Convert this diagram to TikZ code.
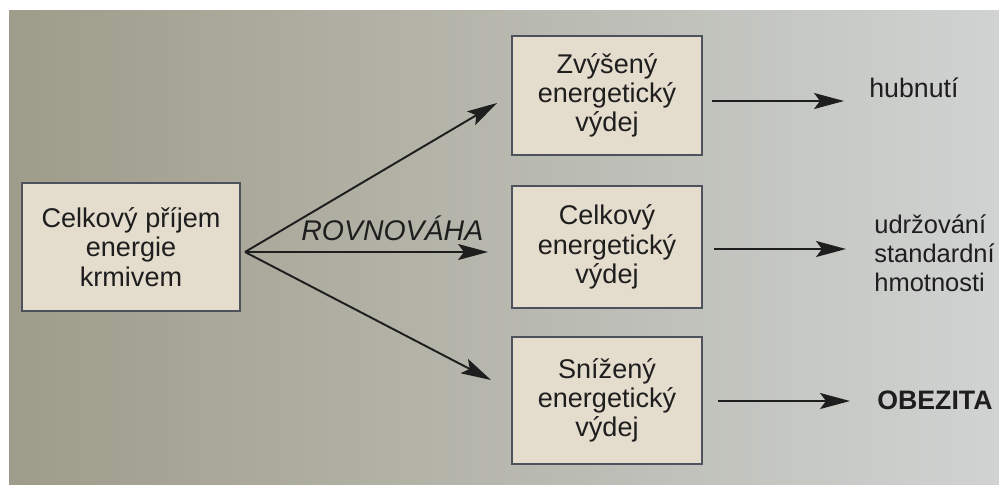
\documentclass[tikz,border=0pt]{standalone}
\usepackage{fontspec}
\setmainfont{Liberation Sans}
\usetikzlibrary{arrows.meta}
\definecolor{bgleft}{RGB}{158,156,138}
\definecolor{bgright}{RGB}{208,211,210}
\definecolor{boxfill}{RGB}{228,220,204}
\definecolor{boxline}{RGB}{78,82,92}
\definecolor{ink}{RGB}{30,30,30}
\tikzset{
  box/.style={draw=boxline, line width=1.3pt, fill=boxfill, align=center, inner sep=0pt,
    font=\fontsize{15.4}{16.6}\selectfont, text=ink},
  arr/.style={draw=ink, line width=1.1pt, -{Stealth[length=0.6cm, width=0.32cm, inset=0.12cm]}},
  lbl/.style={font=\fontsize{15.2}{16.6}\selectfont, text=ink, align=left, inner sep=0pt, anchor=west}
}
\begin{document}
\begin{tikzpicture}[x=0.02cm, y=-0.02cm]
\useasboundingbox (0,0) rectangle (999,484);
\fill[white] (0,0) rectangle (999,484);
\shade[left color=bgleft, right color=bgright] (9,10) rectangle (999,484);
% boxes
\node[box, minimum width=4.36cm, minimum height=2.56cm] (src) at (131,247) {Celkový příjem\\energie\\krmivem};
\node[box, minimum width=3.8cm, minimum height=2.38cm] (up) at (607,95.5) {Zvýšený\\energetický\\výdej};
\node[box, minimum width=3.8cm, minimum height=2.44cm] (mid) at (607,247) {Celkový\\energetický\\výdej};
\node[box, minimum width=3.8cm, minimum height=2.54cm] (down) at (607,400.5) {Snížený\\energetický\\výdej};
% arrows from source
\coordinate (o) at (245,252);
\coordinate (tu) at (497,103);
\coordinate (tm) at (488,252);
\coordinate (td) at (491,380);
\draw[arr] (o) -- (tu);
\draw[arr] (o) -- (tm);
\draw[arr] (o) -- (td);
\node[font=\fontsize{16.2}{18}\selectfont\itshape, text=ink, anchor=base west, inner sep=0pt] (bal) at (301,240) {ROVNOVÁHA};
% results
\node[lbl] (r1) at (869,88) {hubnutí};
\node[lbl, font=\fontsize{14.5}{16.6}\selectfont] (r2) at (874,253) {udržování\\standardní\\hmotnosti};
\node[lbl, font=\fontsize{15.2}{16.6}\selectfont\bfseries] (r3) at (877,400) {OBEZITA};
\coordinate (a1s) at (712,101);
\coordinate (a1e) at (844,101);
\coordinate (a2s) at (714,249);
\coordinate (a2e) at (846,249);
\coordinate (a3s) at (718,401);
\coordinate (a3e) at (850,401);
\draw[arr] (a1s) -- (a1e);
\draw[arr] (a2s) -- (a2e);
\draw[arr] (a3s) -- (a3e);
\end{tikzpicture}
\end{document}
